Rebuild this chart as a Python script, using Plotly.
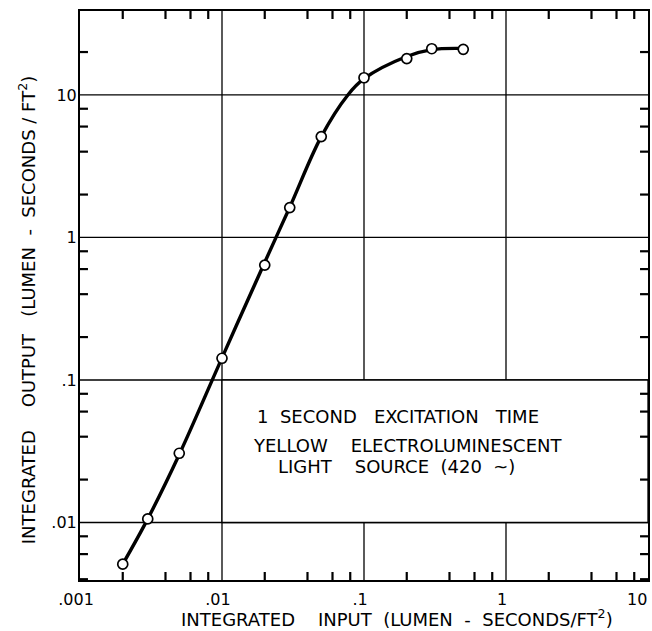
import plotly.graph_objects as go
import math

# measured data points (open circles)
input_lux = [0.002, 0.003, 0.005, 0.01, 0.02, 0.03, 0.05, 0.1, 0.2, 0.3, 0.5]
output_lux = [0.0051, 0.0106, 0.0306, 0.142, 0.64, 1.62, 5.1, 13.2, 18.0, 21.1, 20.9]

# smooth drawn curve
curve_x = [0.002, 0.003, 0.005, 0.01, 0.02, 0.03, 0.05, 0.077, 0.1, 0.2, 0.3, 0.5]
curve_y = [0.0051, 0.0106, 0.0300, 0.143, 0.67, 1.63, 5.1, 10.0, 13.0, 18.6, 20.8, 21.2]

x_decades = [0.001, 0.01, 0.1, 1, 10]
x_decade_labels = [".001", ".01", ".1", "1", "10"]
y_decades = [0.01, 0.1, 1, 10]
y_decade_labels = [".01", ".1", "1", "10"]
minor_mult = [2, 4, 6, 8]

box_lines = ["1  SECOND   EXCITATION   TIME",
             "YELLOW    ELECTROLUMINESCENT",
             "LIGHT    SOURCE  (420  ~)"]

FONT = "DejaVu Sans"
X_RANGE = [math.log10(0.001), math.log10(10)]
Y_RANGE = [-2.4035, 1.589]
PLOT_W, PLOT_H = 570, 569
TICK_PX = 8


def in_range(v, rng):
    return rng[0] < math.log10(v) < rng[1]


x_minor = [m * d for d in [0.001, 0.01, 0.1, 1] for m in minor_mult]
y_minor = [m * d for d in [0.001, 0.01, 0.1, 1, 10] for m in minor_mult]
x_minor = [v for v in x_minor if in_range(v, X_RANGE)]
y_minor = [v for v in y_minor if in_range(v, Y_RANGE)]

fig = go.Figure()

# decade grid lines
for xv in x_decades[1:-1]:
    fig.add_shape(type="line", xref="x", yref="paper", x0=xv, x1=xv, y0=0, y1=1,
                  line=dict(color="black", width=1.3), layer="below")
for yv in y_decades:
    fig.add_shape(type="line", xref="paper", yref="y", x0=0, x1=1, y0=yv, y1=yv,
                  line=dict(color="black", width=1.3), layer="below")

# white box covering the grid for the caption
fig.add_shape(type="rect", xref="x", yref="y", x0=0.01, x1=10, y0=0.01, y1=0.1,
              fillcolor="white", line=dict(color="black", width=1.3), layer="below")

# small inward ticks on all four sides, drawn as one line trace through the axes' scale
def frac_to_val(rng, f):
    return 10 ** (rng[0] + f * (rng[1] - rng[0]))


fy = TICK_PX / PLOT_H
fx = TICK_PX / PLOT_W
tx, ty = [], []
for xv in x_minor:
    tx += [xv, xv, None, xv, xv, None]
    ty += [frac_to_val(Y_RANGE, 0), frac_to_val(Y_RANGE, fy), None,
           frac_to_val(Y_RANGE, 1), frac_to_val(Y_RANGE, 1 - fy), None]
for yv in y_minor:
    tx += [frac_to_val(X_RANGE, 0), frac_to_val(X_RANGE, fx), None,
           frac_to_val(X_RANGE, 1), frac_to_val(X_RANGE, 1 - fx), None]
    ty += [yv, yv, None, yv, yv, None]
fig.add_trace(go.Scatter(x=tx, y=ty, mode="lines", line=dict(color="black", width=2.2),
                         connectgaps=False, hoverinfo="skip", showlegend=False))

fig.add_trace(go.Scatter(x=curve_x, y=curve_y, mode="lines",
                         line=dict(color="black", width=3.4, shape="spline", smoothing=1.0),
                         hoverinfo="skip", showlegend=False))
fig.add_trace(go.Scatter(x=input_lux, y=output_lux, mode="markers",
                         marker=dict(symbol="circle", size=10, color="white",
                                     line=dict(color="black", width=1.7)),
                         showlegend=False))

line_y = [416.7, 445.0, 466.7]
line_x = [256, 252, 277]
for t, py, px in zip(box_lines, line_y, line_x):
    fig.add_annotation(text=t, xref="paper", yref="paper",
                       x=(px - 80) / 570, y=(580 - py) / 569,
                       xanchor="left", yanchor="middle", showarrow=False,
                       font=dict(family=FONT, size=18, color="black"))

# axis titles
fig.add_annotation(text="INTEGRATED    INPUT  (LUMEN  -  SECONDS/FT<sup>2</sup>)",
                   xref="paper", yref="paper", x=(398 - 80) / 570, y=(580 - 618) / 569,
                   xanchor="center", yanchor="middle", showarrow=False,
                   font=dict(family=FONT, size=18, color="black"))
fig.add_annotation(text="INTEGRATED    OUTPUT   (LUMEN  -  SECONDS / FT<sup>2</sup>)",
                   xref="paper", yref="paper", x=(27 - 80) / 570, y=(580 - 310) / 569,
                   xanchor="center", yanchor="middle", showarrow=False, textangle=-90,
                   font=dict(family=FONT, size=18, color="black"))

# last x tick label kept inside the page edge
fig.add_annotation(text=x_decade_labels[-1], xref="x", yref="paper", x=math.log10(x_decades[-1]),
                   y=0, xanchor="right", yanchor="top", xshift=1, yshift=-8,
                   showarrow=False, font=dict(family=FONT, size=16, color="black"))

axis_common = dict(type="log", showline=True, linecolor="black", linewidth=2,
                   mirror=True, ticks="", showgrid=False, zeroline=False,
                   tickfont=dict(family=FONT, size=16, color="black"))

fig.update_layout(
    xaxis=dict(range=X_RANGE, tickmode="array",
               tickvals=x_decades[:-1], ticktext=x_decade_labels[:-1],
               ticklabelstandoff=4, ticklabelshift=-4, **axis_common),
    yaxis=dict(range=Y_RANGE, tickmode="array",
               tickvals=y_decades, ticktext=y_decade_labels,
               ticklabelstandoff=-2, **axis_common),
    width=652, height=631, margin=dict(l=80, r=2, t=11, b=51),
    paper_bgcolor="white", plot_bgcolor="white",
    font=dict(family=FONT, color="black"))

fig.write_html("out.html")
